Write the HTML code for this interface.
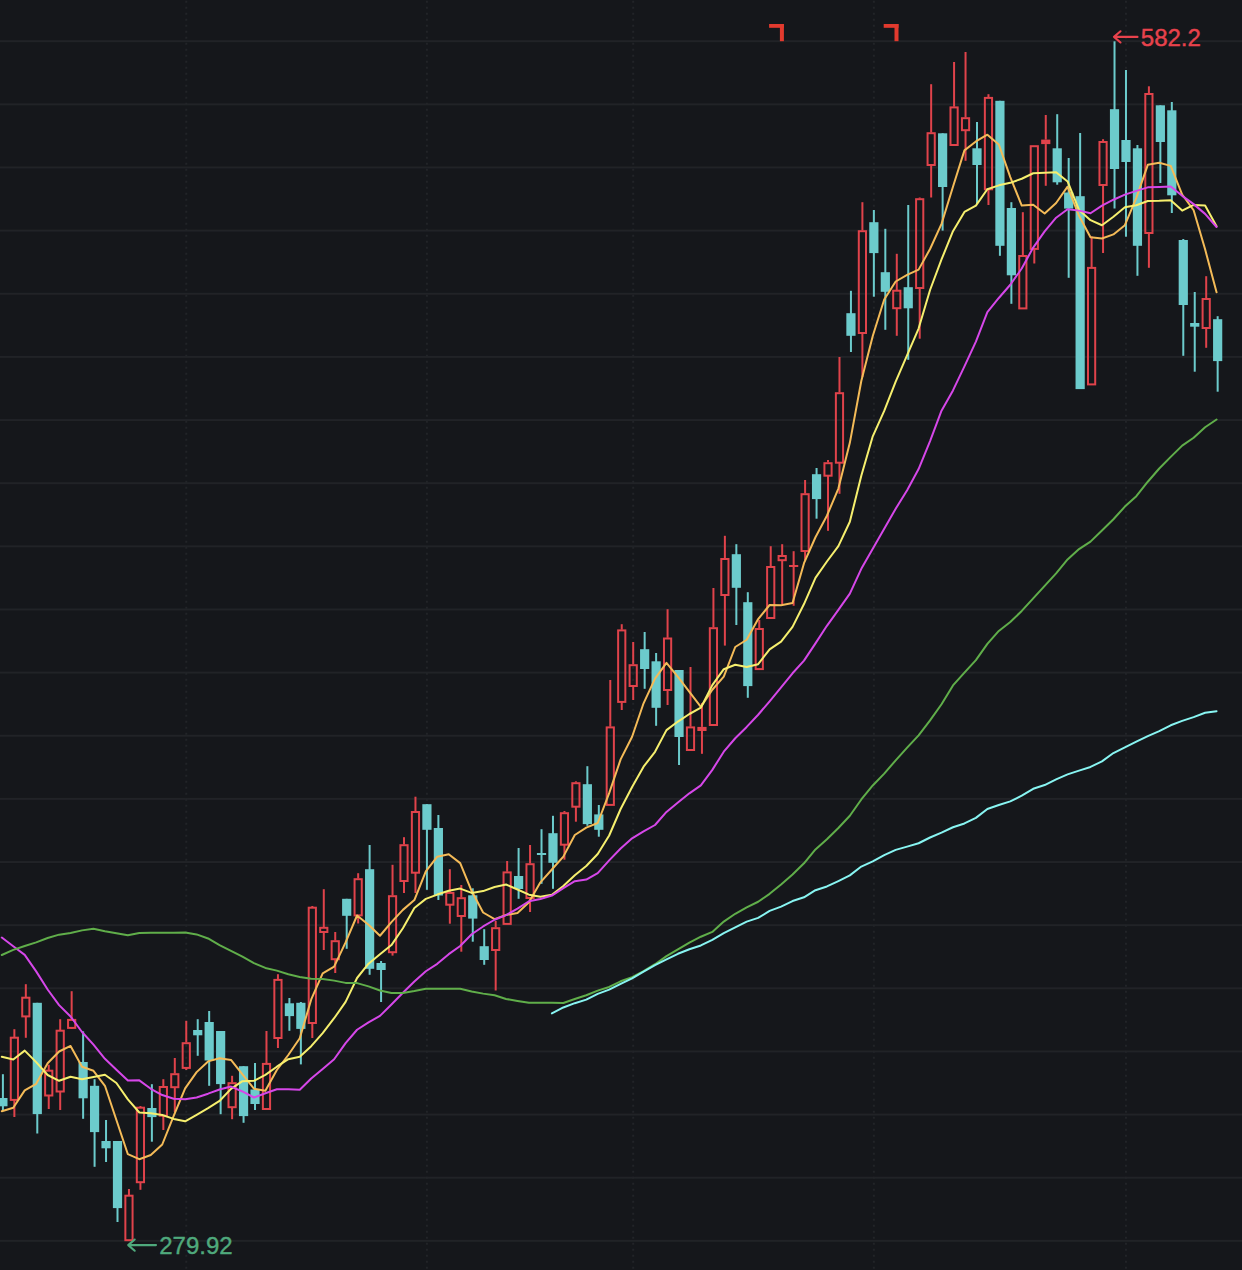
<!DOCTYPE html><html><head><meta charset="utf-8"><style>html,body{margin:0;padding:0;background:#15171b;overflow:hidden}svg{display:block}text{font-family:"Liberation Sans",sans-serif}</style></head><body>
<svg width="1242" height="1270" viewBox="0 0 1242 1270">
<rect width="1242" height="1270" fill="#15171b"/>
<rect x="0" y="40.20" width="1242" height="2" fill="#212327"/>
<rect x="0" y="103.34" width="1242" height="2" fill="#212327"/>
<rect x="0" y="166.48" width="1242" height="2" fill="#212327"/>
<rect x="0" y="229.62" width="1242" height="2" fill="#212327"/>
<rect x="0" y="292.76" width="1242" height="2" fill="#212327"/>
<rect x="0" y="355.90" width="1242" height="2" fill="#212327"/>
<rect x="0" y="419.04" width="1242" height="2" fill="#212327"/>
<rect x="0" y="482.18" width="1242" height="2" fill="#212327"/>
<rect x="0" y="545.32" width="1242" height="2" fill="#212327"/>
<rect x="0" y="608.46" width="1242" height="2" fill="#212327"/>
<rect x="0" y="671.60" width="1242" height="2" fill="#212327"/>
<rect x="0" y="734.74" width="1242" height="2" fill="#212327"/>
<rect x="0" y="797.88" width="1242" height="2" fill="#212327"/>
<rect x="0" y="861.02" width="1242" height="2" fill="#212327"/>
<rect x="0" y="924.16" width="1242" height="2" fill="#212327"/>
<rect x="0" y="987.30" width="1242" height="2" fill="#212327"/>
<rect x="0" y="1050.44" width="1242" height="2" fill="#212327"/>
<rect x="0" y="1113.58" width="1242" height="2" fill="#212327"/>
<rect x="0" y="1176.72" width="1242" height="2" fill="#212327"/>
<rect x="0" y="1239.86" width="1242" height="2" fill="#212327"/>
<line x1="186.26" y1="0" x2="186.26" y2="1270" stroke="#222428" stroke-width="2" stroke-dasharray="2 4" stroke-dashoffset="-0.7"/>
<line x1="426.92" y1="0" x2="426.92" y2="1270" stroke="#222428" stroke-width="2" stroke-dasharray="2 4" stroke-dashoffset="-0.7"/>
<line x1="633.20" y1="0" x2="633.20" y2="1270" stroke="#222428" stroke-width="2" stroke-dasharray="2 4" stroke-dashoffset="-0.7"/>
<line x1="873.86" y1="0" x2="873.86" y2="1270" stroke="#222428" stroke-width="2" stroke-dasharray="2 4" stroke-dashoffset="-0.7"/>
<line x1="1125.98" y1="0" x2="1125.98" y2="1270" stroke="#222428" stroke-width="2" stroke-dasharray="2 4" stroke-dashoffset="-0.7"/>
<rect x="1.90" y="1074.20" width="2.00" height="35.80" fill="#6ccbcc"/>
<rect x="-1.70" y="1098.00" width="9.20" height="8.30" fill="#6ccbcc"/>
<rect x="13.36" y="1029.20" width="2.00" height="7.80" fill="#e0434b"/>
<rect x="13.36" y="1100.20" width="2.00" height="16.80" fill="#e0434b"/>
<rect x="10.76" y="1037.70" width="7.20" height="62.20" fill="none" stroke="#e0434b" stroke-width="2.00"/>
<rect x="24.82" y="984.20" width="2.00" height="12.80" fill="#e0434b"/>
<rect x="24.82" y="1016.70" width="2.00" height="21.10" fill="#e0434b"/>
<rect x="22.22" y="997.70" width="7.20" height="18.70" fill="none" stroke="#e0434b" stroke-width="2.00"/>
<rect x="36.28" y="1002.80" width="2.00" height="130.70" fill="#6ccbcc"/>
<rect x="32.68" y="1002.80" width="9.20" height="111.30" fill="#6ccbcc"/>
<rect x="47.74" y="1064.70" width="2.00" height="5.30" fill="#e0434b"/>
<rect x="47.74" y="1095.80" width="2.00" height="13.20" fill="#e0434b"/>
<rect x="45.14" y="1070.70" width="7.20" height="24.80" fill="none" stroke="#e0434b" stroke-width="2.00"/>
<rect x="59.20" y="1019.20" width="2.00" height="10.80" fill="#e0434b"/>
<rect x="59.20" y="1091.80" width="2.00" height="18.20" fill="#e0434b"/>
<rect x="56.60" y="1030.70" width="7.20" height="60.80" fill="none" stroke="#e0434b" stroke-width="2.00"/>
<rect x="70.66" y="991.20" width="2.00" height="28.00" fill="#e0434b"/>
<rect x="70.66" y="1028.20" width="2.00" height="0.80" fill="#e0434b"/>
<rect x="68.06" y="1019.90" width="7.20" height="8.00" fill="none" stroke="#e0434b" stroke-width="2.00"/>
<rect x="82.12" y="1031.30" width="2.00" height="87.50" fill="#6ccbcc"/>
<rect x="78.52" y="1062.00" width="9.20" height="36.30" fill="#6ccbcc"/>
<rect x="93.58" y="1079.20" width="2.00" height="87.60" fill="#6ccbcc"/>
<rect x="89.98" y="1085.80" width="9.20" height="46.30" fill="#6ccbcc"/>
<rect x="105.04" y="1120.00" width="2.00" height="42.00" fill="#6ccbcc"/>
<rect x="101.44" y="1141.00" width="9.20" height="7.30" fill="#6ccbcc"/>
<rect x="116.50" y="1141.00" width="2.00" height="81.00" fill="#6ccbcc"/>
<rect x="112.90" y="1141.00" width="9.20" height="67.10" fill="#6ccbcc"/>
<rect x="127.96" y="1189.00" width="2.00" height="6.00" fill="#e0434b"/>
<rect x="125.36" y="1195.70" width="7.20" height="44.50" fill="none" stroke="#e0434b" stroke-width="2.00"/>
<rect x="139.42" y="1106.00" width="2.00" height="1.00" fill="#e0434b"/>
<rect x="139.42" y="1182.50" width="2.00" height="7.30" fill="#e0434b"/>
<rect x="136.82" y="1107.70" width="7.20" height="74.50" fill="none" stroke="#e0434b" stroke-width="2.00"/>
<rect x="150.88" y="1084.20" width="2.00" height="57.50" fill="#6ccbcc"/>
<rect x="147.28" y="1108.00" width="9.20" height="9.10" fill="#6ccbcc"/>
<rect x="162.34" y="1079.20" width="2.00" height="7.10" fill="#e0434b"/>
<rect x="162.34" y="1116.00" width="2.00" height="14.00" fill="#e0434b"/>
<rect x="159.74" y="1087.00" width="7.20" height="28.70" fill="none" stroke="#e0434b" stroke-width="2.00"/>
<rect x="173.80" y="1058.00" width="2.00" height="15.50" fill="#e0434b"/>
<rect x="173.80" y="1087.50" width="2.00" height="24.50" fill="#e0434b"/>
<rect x="171.20" y="1074.20" width="7.20" height="13.00" fill="none" stroke="#e0434b" stroke-width="2.00"/>
<rect x="185.26" y="1020.80" width="2.00" height="21.70" fill="#e0434b"/>
<rect x="185.26" y="1068.20" width="2.00" height="1.80" fill="#e0434b"/>
<rect x="182.66" y="1043.20" width="7.20" height="24.70" fill="none" stroke="#e0434b" stroke-width="2.00"/>
<rect x="196.72" y="1019.20" width="2.00" height="36.60" fill="#6ccbcc"/>
<rect x="193.12" y="1030.00" width="9.20" height="5.30" fill="#6ccbcc"/>
<rect x="208.18" y="1011.00" width="2.00" height="74.80" fill="#6ccbcc"/>
<rect x="204.58" y="1022.00" width="9.20" height="38.50" fill="#6ccbcc"/>
<rect x="219.64" y="1031.00" width="2.00" height="83.20" fill="#6ccbcc"/>
<rect x="216.04" y="1031.00" width="9.20" height="53.10" fill="#6ccbcc"/>
<rect x="231.10" y="1075.80" width="2.00" height="6.70" fill="#e0434b"/>
<rect x="231.10" y="1107.50" width="2.00" height="11.70" fill="#e0434b"/>
<rect x="228.50" y="1083.20" width="7.20" height="24.00" fill="none" stroke="#e0434b" stroke-width="2.00"/>
<rect x="242.56" y="1066.20" width="2.00" height="56.60" fill="#6ccbcc"/>
<rect x="238.96" y="1066.20" width="9.20" height="49.90" fill="#6ccbcc"/>
<rect x="254.02" y="1063.00" width="2.00" height="47.00" fill="#6ccbcc"/>
<rect x="250.42" y="1089.50" width="9.20" height="14.50" fill="#6ccbcc"/>
<rect x="265.48" y="1031.00" width="2.00" height="32.20" fill="#e0434b"/>
<rect x="262.88" y="1063.90" width="7.20" height="45.10" fill="none" stroke="#e0434b" stroke-width="2.00"/>
<rect x="276.94" y="974.20" width="2.00" height="5.00" fill="#e0434b"/>
<rect x="276.94" y="1038.30" width="2.00" height="9.70" fill="#e0434b"/>
<rect x="274.34" y="979.90" width="7.20" height="58.10" fill="none" stroke="#e0434b" stroke-width="2.00"/>
<rect x="288.40" y="998.00" width="2.00" height="32.80" fill="#6ccbcc"/>
<rect x="284.80" y="1003.30" width="9.20" height="12.80" fill="#6ccbcc"/>
<rect x="299.86" y="1002.00" width="2.00" height="62.40" fill="#6ccbcc"/>
<rect x="296.26" y="1002.80" width="9.20" height="26.10" fill="#6ccbcc"/>
<rect x="311.32" y="906.00" width="2.00" height="1.00" fill="#e0434b"/>
<rect x="311.32" y="1023.30" width="2.00" height="14.70" fill="#e0434b"/>
<rect x="308.72" y="907.70" width="7.20" height="115.30" fill="none" stroke="#e0434b" stroke-width="2.00"/>
<rect x="322.78" y="889.20" width="2.00" height="37.90" fill="#e0434b"/>
<rect x="322.78" y="932.30" width="2.00" height="17.70" fill="#e0434b"/>
<rect x="320.18" y="927.80" width="7.20" height="4.20" fill="none" stroke="#e0434b" stroke-width="2.00"/>
<rect x="334.24" y="932.00" width="2.00" height="8.50" fill="#e0434b"/>
<rect x="334.24" y="959.50" width="2.00" height="13.50" fill="#e0434b"/>
<rect x="331.64" y="941.20" width="7.20" height="18.00" fill="none" stroke="#e0434b" stroke-width="2.00"/>
<rect x="345.70" y="898.80" width="2.00" height="50.00" fill="#6ccbcc"/>
<rect x="342.10" y="898.80" width="9.20" height="17.00" fill="#6ccbcc"/>
<rect x="357.16" y="873.20" width="2.00" height="5.30" fill="#e0434b"/>
<rect x="357.16" y="915.70" width="2.00" height="7.80" fill="#e0434b"/>
<rect x="354.56" y="879.20" width="7.20" height="36.20" fill="none" stroke="#e0434b" stroke-width="2.00"/>
<rect x="368.62" y="845.00" width="2.00" height="129.80" fill="#6ccbcc"/>
<rect x="365.02" y="869.20" width="9.20" height="99.60" fill="#6ccbcc"/>
<rect x="380.08" y="961.00" width="2.00" height="41.00" fill="#6ccbcc"/>
<rect x="376.48" y="963.00" width="9.20" height="7.00" fill="#6ccbcc"/>
<rect x="391.54" y="864.80" width="2.00" height="30.70" fill="#e0434b"/>
<rect x="391.54" y="952.50" width="2.00" height="3.10" fill="#e0434b"/>
<rect x="388.94" y="896.20" width="7.20" height="56.00" fill="none" stroke="#e0434b" stroke-width="2.00"/>
<rect x="403.00" y="837.20" width="2.00" height="7.30" fill="#e0434b"/>
<rect x="403.00" y="881.30" width="2.00" height="11.70" fill="#e0434b"/>
<rect x="400.40" y="845.20" width="7.20" height="35.80" fill="none" stroke="#e0434b" stroke-width="2.00"/>
<rect x="414.46" y="796.70" width="2.00" height="14.60" fill="#e0434b"/>
<rect x="414.46" y="873.00" width="2.00" height="20.00" fill="#e0434b"/>
<rect x="411.86" y="812.00" width="7.20" height="60.70" fill="none" stroke="#e0434b" stroke-width="2.00"/>
<rect x="425.92" y="804.20" width="2.00" height="85.60" fill="#6ccbcc"/>
<rect x="422.32" y="804.20" width="9.20" height="25.60" fill="#6ccbcc"/>
<rect x="437.38" y="815.00" width="2.00" height="85.00" fill="#6ccbcc"/>
<rect x="433.78" y="828.00" width="9.20" height="67.50" fill="#6ccbcc"/>
<rect x="448.84" y="869.20" width="2.00" height="23.00" fill="#e0434b"/>
<rect x="448.84" y="905.00" width="2.00" height="18.70" fill="#e0434b"/>
<rect x="446.24" y="892.90" width="7.20" height="11.80" fill="none" stroke="#e0434b" stroke-width="2.00"/>
<rect x="460.30" y="885.00" width="2.00" height="12.50" fill="#e0434b"/>
<rect x="460.30" y="916.30" width="2.00" height="35.40" fill="#e0434b"/>
<rect x="457.70" y="898.20" width="7.20" height="17.80" fill="none" stroke="#e0434b" stroke-width="2.00"/>
<rect x="471.76" y="888.30" width="2.00" height="53.40" fill="#6ccbcc"/>
<rect x="468.16" y="895.30" width="9.20" height="23.30" fill="#6ccbcc"/>
<rect x="483.22" y="929.20" width="2.00" height="35.60" fill="#6ccbcc"/>
<rect x="479.62" y="946.20" width="9.20" height="13.80" fill="#6ccbcc"/>
<rect x="494.68" y="921.00" width="2.00" height="6.50" fill="#e0434b"/>
<rect x="494.68" y="950.30" width="2.00" height="40.20" fill="#e0434b"/>
<rect x="492.08" y="928.20" width="7.20" height="21.80" fill="none" stroke="#e0434b" stroke-width="2.00"/>
<rect x="506.14" y="861.00" width="2.00" height="10.70" fill="#e0434b"/>
<rect x="503.54" y="872.40" width="7.20" height="51.50" fill="none" stroke="#e0434b" stroke-width="2.00"/>
<rect x="517.60" y="848.00" width="2.00" height="50.80" fill="#6ccbcc"/>
<rect x="514.00" y="876.00" width="9.20" height="13.00" fill="#6ccbcc"/>
<rect x="529.06" y="845.00" width="2.00" height="18.50" fill="#e0434b"/>
<rect x="529.06" y="898.30" width="2.00" height="13.70" fill="#e0434b"/>
<rect x="526.46" y="864.20" width="7.20" height="33.80" fill="none" stroke="#e0434b" stroke-width="2.00"/>
<rect x="540.52" y="829.20" width="2.00" height="54.60" fill="#6ccbcc"/>
<rect x="536.92" y="853.00" width="9.20" height="2.00" fill="#6ccbcc"/>
<rect x="551.98" y="815.80" width="2.00" height="73.00" fill="#6ccbcc"/>
<rect x="548.38" y="833.20" width="9.20" height="29.60" fill="#6ccbcc"/>
<rect x="563.44" y="811.00" width="2.00" height="1.50" fill="#e0434b"/>
<rect x="563.44" y="845.00" width="2.00" height="14.70" fill="#e0434b"/>
<rect x="560.84" y="813.20" width="7.20" height="31.50" fill="none" stroke="#e0434b" stroke-width="2.00"/>
<rect x="574.90" y="781.30" width="2.00" height="1.20" fill="#e0434b"/>
<rect x="574.90" y="807.00" width="2.00" height="14.70" fill="#e0434b"/>
<rect x="572.30" y="783.20" width="7.20" height="23.50" fill="none" stroke="#e0434b" stroke-width="2.00"/>
<rect x="586.36" y="766.20" width="2.00" height="59.60" fill="#6ccbcc"/>
<rect x="582.76" y="784.20" width="9.20" height="39.90" fill="#6ccbcc"/>
<rect x="597.82" y="805.00" width="2.00" height="31.70" fill="#6ccbcc"/>
<rect x="594.22" y="814.40" width="9.20" height="15.40" fill="#6ccbcc"/>
<rect x="609.28" y="680.00" width="2.00" height="46.70" fill="#e0434b"/>
<rect x="606.68" y="727.40" width="7.20" height="77.50" fill="none" stroke="#e0434b" stroke-width="2.00"/>
<rect x="620.74" y="624.20" width="2.00" height="5.50" fill="#e0434b"/>
<rect x="620.74" y="702.20" width="2.00" height="7.80" fill="#e0434b"/>
<rect x="618.14" y="630.40" width="7.20" height="71.50" fill="none" stroke="#e0434b" stroke-width="2.00"/>
<rect x="632.20" y="642.00" width="2.00" height="22.50" fill="#e0434b"/>
<rect x="632.20" y="686.30" width="2.00" height="13.70" fill="#e0434b"/>
<rect x="629.60" y="665.20" width="7.20" height="20.80" fill="none" stroke="#e0434b" stroke-width="2.00"/>
<rect x="643.66" y="632.00" width="2.00" height="56.80" fill="#6ccbcc"/>
<rect x="640.06" y="649.20" width="9.20" height="19.80" fill="#6ccbcc"/>
<rect x="655.12" y="653.00" width="2.00" height="72.80" fill="#6ccbcc"/>
<rect x="651.52" y="661.30" width="9.20" height="46.50" fill="#6ccbcc"/>
<rect x="666.58" y="609.20" width="2.00" height="28.60" fill="#e0434b"/>
<rect x="666.58" y="690.30" width="2.00" height="14.70" fill="#e0434b"/>
<rect x="663.98" y="638.50" width="7.20" height="51.50" fill="none" stroke="#e0434b" stroke-width="2.00"/>
<rect x="678.04" y="670.00" width="2.00" height="95.00" fill="#6ccbcc"/>
<rect x="674.44" y="670.00" width="9.20" height="67.00" fill="#6ccbcc"/>
<rect x="689.50" y="667.00" width="2.00" height="59.70" fill="#e0434b"/>
<rect x="686.90" y="727.40" width="7.20" height="22.60" fill="none" stroke="#e0434b" stroke-width="2.00"/>
<rect x="700.96" y="703.00" width="2.00" height="23.90" fill="#e0434b"/>
<rect x="700.96" y="731.00" width="2.00" height="22.80" fill="#e0434b"/>
<rect x="697.36" y="726.90" width="9.20" height="4.10" fill="#e0434b"/>
<rect x="712.42" y="588.00" width="2.00" height="39.50" fill="#e0434b"/>
<rect x="709.82" y="628.20" width="7.20" height="96.80" fill="none" stroke="#e0434b" stroke-width="2.00"/>
<rect x="723.88" y="535.80" width="2.00" height="22.50" fill="#e0434b"/>
<rect x="723.88" y="595.30" width="2.00" height="50.30" fill="#e0434b"/>
<rect x="721.28" y="559.00" width="7.20" height="36.00" fill="none" stroke="#e0434b" stroke-width="2.00"/>
<rect x="735.34" y="544.20" width="2.00" height="80.80" fill="#6ccbcc"/>
<rect x="731.74" y="554.20" width="9.20" height="33.60" fill="#6ccbcc"/>
<rect x="746.80" y="592.20" width="2.00" height="105.60" fill="#6ccbcc"/>
<rect x="743.20" y="602.20" width="9.20" height="83.90" fill="#6ccbcc"/>
<rect x="758.26" y="620.00" width="2.00" height="8.30" fill="#e0434b"/>
<rect x="755.66" y="629.00" width="7.20" height="40.10" fill="none" stroke="#e0434b" stroke-width="2.00"/>
<rect x="769.72" y="546.20" width="2.00" height="20.10" fill="#e0434b"/>
<rect x="767.12" y="567.00" width="7.20" height="51.00" fill="none" stroke="#e0434b" stroke-width="2.00"/>
<rect x="781.18" y="544.20" width="2.00" height="11.10" fill="#e0434b"/>
<rect x="781.18" y="560.50" width="2.00" height="43.70" fill="#e0434b"/>
<rect x="778.58" y="556.00" width="7.20" height="4.20" fill="none" stroke="#e0434b" stroke-width="2.00"/>
<rect x="792.64" y="551.20" width="2.00" height="13.80" fill="#e0434b"/>
<rect x="792.64" y="566.70" width="2.00" height="39.10" fill="#e0434b"/>
<rect x="789.04" y="565.00" width="9.20" height="2.00" fill="#e0434b"/>
<rect x="804.10" y="480.00" width="2.00" height="13.50" fill="#e0434b"/>
<rect x="804.10" y="551.30" width="2.00" height="8.70" fill="#e0434b"/>
<rect x="801.50" y="494.20" width="7.20" height="56.80" fill="none" stroke="#e0434b" stroke-width="2.00"/>
<rect x="815.56" y="468.00" width="2.00" height="50.70" fill="#6ccbcc"/>
<rect x="811.96" y="474.20" width="9.20" height="24.90" fill="#6ccbcc"/>
<rect x="827.02" y="460.00" width="2.00" height="2.50" fill="#e0434b"/>
<rect x="827.02" y="476.00" width="2.00" height="54.80" fill="#e0434b"/>
<rect x="824.42" y="463.20" width="7.20" height="12.50" fill="none" stroke="#e0434b" stroke-width="2.00"/>
<rect x="838.48" y="357.00" width="2.00" height="35.50" fill="#e0434b"/>
<rect x="838.48" y="463.00" width="2.00" height="30.80" fill="#e0434b"/>
<rect x="835.88" y="393.20" width="7.20" height="69.50" fill="none" stroke="#e0434b" stroke-width="2.00"/>
<rect x="849.94" y="290.80" width="2.00" height="61.20" fill="#6ccbcc"/>
<rect x="846.34" y="313.20" width="9.20" height="22.60" fill="#6ccbcc"/>
<rect x="861.40" y="202.20" width="2.00" height="28.30" fill="#e0434b"/>
<rect x="861.40" y="333.30" width="2.00" height="43.70" fill="#e0434b"/>
<rect x="858.80" y="231.20" width="7.20" height="101.80" fill="none" stroke="#e0434b" stroke-width="2.00"/>
<rect x="872.86" y="210.00" width="2.00" height="86.70" fill="#6ccbcc"/>
<rect x="869.26" y="222.20" width="9.20" height="30.90" fill="#6ccbcc"/>
<rect x="884.32" y="228.80" width="2.00" height="101.00" fill="#6ccbcc"/>
<rect x="880.72" y="272.20" width="9.20" height="19.60" fill="#6ccbcc"/>
<rect x="895.78" y="253.80" width="2.00" height="36.20" fill="#e0434b"/>
<rect x="895.78" y="308.50" width="2.00" height="27.30" fill="#e0434b"/>
<rect x="893.18" y="290.70" width="7.20" height="17.50" fill="none" stroke="#e0434b" stroke-width="2.00"/>
<rect x="907.24" y="205.00" width="2.00" height="154.80" fill="#6ccbcc"/>
<rect x="903.64" y="287.20" width="9.20" height="21.10" fill="#6ccbcc"/>
<rect x="918.70" y="197.50" width="2.00" height="1.00" fill="#e0434b"/>
<rect x="918.70" y="288.30" width="2.00" height="50.40" fill="#e0434b"/>
<rect x="916.10" y="199.20" width="7.20" height="88.80" fill="none" stroke="#e0434b" stroke-width="2.00"/>
<rect x="930.16" y="84.20" width="2.00" height="48.30" fill="#e0434b"/>
<rect x="930.16" y="165.30" width="2.00" height="32.20" fill="#e0434b"/>
<rect x="927.56" y="133.20" width="7.20" height="31.80" fill="none" stroke="#e0434b" stroke-width="2.00"/>
<rect x="941.62" y="133.30" width="2.00" height="97.30" fill="#6ccbcc"/>
<rect x="938.02" y="133.30" width="9.20" height="53.70" fill="#6ccbcc"/>
<rect x="953.08" y="62.00" width="2.00" height="44.70" fill="#e0434b"/>
<rect x="950.48" y="107.40" width="7.20" height="37.60" fill="none" stroke="#e0434b" stroke-width="2.00"/>
<rect x="964.54" y="52.00" width="2.00" height="65.50" fill="#e0434b"/>
<rect x="964.54" y="130.50" width="2.00" height="30.30" fill="#e0434b"/>
<rect x="961.94" y="118.20" width="7.20" height="12.00" fill="none" stroke="#e0434b" stroke-width="2.00"/>
<rect x="976.00" y="122.00" width="2.00" height="82.00" fill="#6ccbcc"/>
<rect x="972.40" y="148.30" width="9.20" height="16.70" fill="#6ccbcc"/>
<rect x="987.46" y="94.20" width="2.00" height="3.00" fill="#e0434b"/>
<rect x="987.46" y="189.60" width="2.00" height="15.40" fill="#e0434b"/>
<rect x="984.86" y="97.90" width="7.20" height="91.40" fill="none" stroke="#e0434b" stroke-width="2.00"/>
<rect x="998.92" y="100.80" width="2.00" height="155.00" fill="#6ccbcc"/>
<rect x="995.32" y="100.80" width="9.20" height="145.00" fill="#6ccbcc"/>
<rect x="1010.38" y="202.20" width="2.00" height="101.60" fill="#6ccbcc"/>
<rect x="1006.78" y="208.00" width="9.20" height="67.30" fill="#6ccbcc"/>
<rect x="1021.84" y="212.20" width="2.00" height="43.10" fill="#e0434b"/>
<rect x="1019.24" y="256.00" width="7.20" height="52.40" fill="none" stroke="#e0434b" stroke-width="2.00"/>
<rect x="1033.30" y="249.20" width="2.00" height="14.30" fill="#e0434b"/>
<rect x="1030.70" y="146.20" width="7.20" height="102.70" fill="none" stroke="#e0434b" stroke-width="2.00"/>
<rect x="1044.76" y="115.00" width="2.00" height="24.60" fill="#e0434b"/>
<rect x="1044.76" y="144.10" width="2.00" height="41.70" fill="#e0434b"/>
<rect x="1041.16" y="139.60" width="9.20" height="4.50" fill="#e0434b"/>
<rect x="1056.22" y="114.20" width="2.00" height="70.50" fill="#6ccbcc"/>
<rect x="1052.62" y="148.30" width="9.20" height="34.00" fill="#6ccbcc"/>
<rect x="1067.68" y="158.00" width="2.00" height="119.80" fill="#6ccbcc"/>
<rect x="1064.08" y="192.50" width="9.20" height="16.10" fill="#6ccbcc"/>
<rect x="1079.14" y="133.00" width="2.00" height="255.80" fill="#6ccbcc"/>
<rect x="1075.54" y="196.20" width="9.20" height="192.90" fill="#6ccbcc"/>
<rect x="1090.60" y="236.30" width="2.00" height="30.90" fill="#e0434b"/>
<rect x="1088.00" y="267.90" width="7.20" height="116.50" fill="none" stroke="#e0434b" stroke-width="2.00"/>
<rect x="1102.06" y="139.20" width="2.00" height="2.10" fill="#e0434b"/>
<rect x="1102.06" y="185.30" width="2.00" height="67.70" fill="#e0434b"/>
<rect x="1099.46" y="142.00" width="7.20" height="43.00" fill="none" stroke="#e0434b" stroke-width="2.00"/>
<rect x="1113.52" y="41.30" width="2.00" height="167.20" fill="#6ccbcc"/>
<rect x="1109.92" y="109.20" width="9.20" height="59.80" fill="#6ccbcc"/>
<rect x="1124.98" y="70.00" width="2.00" height="166.70" fill="#6ccbcc"/>
<rect x="1121.38" y="140.00" width="9.20" height="22.00" fill="#6ccbcc"/>
<rect x="1136.44" y="145.00" width="2.00" height="130.80" fill="#6ccbcc"/>
<rect x="1132.84" y="148.30" width="9.20" height="97.50" fill="#6ccbcc"/>
<rect x="1147.90" y="86.30" width="2.00" height="7.00" fill="#e0434b"/>
<rect x="1147.90" y="233.30" width="2.00" height="34.50" fill="#e0434b"/>
<rect x="1145.30" y="94.00" width="7.20" height="139.00" fill="none" stroke="#e0434b" stroke-width="2.00"/>
<rect x="1159.36" y="105.30" width="2.00" height="77.70" fill="#6ccbcc"/>
<rect x="1155.76" y="105.30" width="9.20" height="36.70" fill="#6ccbcc"/>
<rect x="1170.82" y="102.00" width="2.00" height="111.00" fill="#6ccbcc"/>
<rect x="1167.22" y="110.30" width="9.20" height="85.00" fill="#6ccbcc"/>
<rect x="1182.28" y="239.00" width="2.00" height="116.80" fill="#6ccbcc"/>
<rect x="1178.68" y="240.00" width="9.20" height="65.00" fill="#6ccbcc"/>
<rect x="1193.74" y="292.00" width="2.00" height="79.70" fill="#6ccbcc"/>
<rect x="1190.14" y="323.00" width="9.20" height="3.70" fill="#6ccbcc"/>
<rect x="1205.20" y="276.20" width="2.00" height="22.10" fill="#e0434b"/>
<rect x="1205.20" y="328.30" width="2.00" height="19.50" fill="#e0434b"/>
<rect x="1202.60" y="299.00" width="7.20" height="29.00" fill="none" stroke="#e0434b" stroke-width="2.00"/>
<rect x="1216.66" y="316.20" width="2.00" height="75.50" fill="#6ccbcc"/>
<rect x="1213.06" y="319.20" width="9.20" height="41.90" fill="#6ccbcc"/>
<polyline points="1.80,1111.19 13.26,1107.74 24.72,1090.36 36.18,1083.82 47.64,1063.22 59.10,1051.52 70.56,1045.94 82.02,1066.70 93.48,1070.80 104.94,1085.80 116.40,1120.02 127.86,1154.20 139.32,1159.20 150.78,1155.00 162.24,1144.50 173.70,1115.90 185.16,1088.30 196.62,1072.12 208.08,1061.40 219.54,1058.30 231.00,1059.96 242.46,1074.46 253.92,1088.70 265.38,1090.80 276.84,1070.00 288.30,1055.00 299.76,1038.30 311.22,999.42 322.68,973.30 334.14,966.60 345.60,942.38 357.06,915.50 368.52,924.84 379.98,935.74 391.44,922.08 402.90,909.88 414.36,900.10 425.82,871.30 437.28,856.70 448.74,854.30 460.20,863.15 471.66,891.02 483.12,912.50 494.58,919.09 506.04,915.00 517.50,913.00 528.96,902.35 540.42,882.36 551.88,869.54 563.34,856.60 574.80,835.00 586.26,827.58 597.72,823.00 609.18,793.18 620.64,759.38 632.10,736.76 643.56,703.30 655.02,678.63 666.48,662.92 677.94,676.85 689.40,691.94 700.86,706.94 712.32,689.74 723.78,676.70 735.24,647.00 746.70,639.72 758.16,619.10 769.62,605.00 781.08,605.20 792.54,602.96 804.00,563.16 815.46,537.24 826.92,515.70 838.38,488.60 849.84,442.86 861.30,381.00 872.76,336.00 884.22,299.50 895.68,281.50 907.14,274.80 918.60,269.62 930.06,248.98 941.52,223.84 952.98,186.78 964.44,150.34 975.90,141.45 987.36,134.70 998.82,144.53 1010.28,177.12 1021.74,205.51 1033.20,204.70 1044.66,213.44 1056.12,202.98 1067.58,186.70 1079.04,215.82 1090.50,237.34 1101.96,238.52 1113.42,234.42 1124.88,225.16 1136.34,197.88 1147.80,164.84 1159.26,162.80 1170.72,165.88 1182.18,194.52 1193.64,210.28 1205.10,249.29 1216.56,292.35" fill="none" stroke="#f4bb58" stroke-width="2.00" stroke-linejoin="round" stroke-linecap="round"/>
<polyline points="1.80,1056.79 13.26,1059.50 24.72,1050.60 36.18,1062.14 47.64,1075.00 59.10,1080.80 70.56,1076.78 82.02,1079.20 93.48,1076.92 104.94,1074.70 116.40,1082.95 127.86,1099.44 139.32,1112.50 150.78,1113.17 162.24,1115.02 173.70,1118.91 185.16,1121.30 196.62,1114.86 208.08,1108.18 219.54,1100.94 231.00,1088.92 242.46,1081.15 253.92,1080.80 265.38,1074.88 276.84,1066.70 288.30,1059.20 299.76,1056.70 311.22,1046.20 322.68,1033.06 334.14,1018.22 345.60,1001.86 357.06,978.00 368.52,963.69 379.98,954.20 391.44,945.09 402.90,928.28 414.36,908.05 425.82,898.90 437.28,894.57 448.74,890.76 460.20,888.58 471.66,892.90 483.12,891.10 494.58,886.99 506.04,884.54 517.50,889.51 528.96,894.67 540.42,896.84 551.88,894.77 563.34,885.96 574.80,875.16 586.26,866.04 597.72,854.02 609.18,835.50 620.64,809.02 632.10,786.92 643.56,766.70 655.02,751.82 666.48,730.10 677.94,721.54 689.40,714.00 700.86,707.74 712.32,685.08 723.78,669.20 735.24,664.70 746.70,667.07 758.16,664.20 769.62,649.39 781.08,641.62 792.54,626.86 804.00,604.06 815.46,577.80 826.92,561.52 838.38,546.20 849.84,521.78 861.30,475.78 872.76,436.34 884.22,410.91 895.68,381.68 907.14,355.07 918.60,328.56 930.06,290.00 941.52,259.47 952.98,231.20 964.44,211.97 975.90,205.63 987.36,189.30 998.82,185.33 1010.28,182.82 1021.74,178.76 1033.20,173.26 1044.66,172.81 1056.12,172.30 1067.58,181.43 1079.04,209.90 1090.50,220.16 1101.96,225.24 1113.42,216.68 1124.88,207.22 1136.34,205.28 1147.80,201.00 1159.26,200.80 1170.72,200.32 1182.18,210.61 1193.64,204.90 1205.10,205.57 1216.56,226.23" fill="none" stroke="#f6ef6e" stroke-width="2.00" stroke-linejoin="round" stroke-linecap="round"/>
<polyline points="1.80,937.50 13.26,946.20 24.72,954.90 36.18,971.40 47.64,989.50 59.10,1005.10 70.56,1016.50 82.02,1032.00 93.48,1044.70 104.94,1058.80 116.40,1069.81 127.86,1080.60 139.32,1080.37 150.78,1088.79 162.24,1095.04 173.70,1098.82 185.16,1099.29 196.62,1097.48 208.08,1093.68 219.54,1089.52 231.00,1086.57 242.46,1091.48 253.92,1097.50 265.38,1093.20 276.84,1089.20 288.30,1089.20 299.76,1089.76 311.22,1078.52 322.68,1068.94 334.14,1059.26 345.60,1043.10 357.06,1029.76 368.52,1022.36 379.98,1015.88 391.44,1004.42 402.90,992.79 414.36,981.52 425.82,971.24 437.28,963.82 448.74,954.16 460.20,945.96 471.66,934.22 483.12,926.48 494.58,919.74 506.04,915.14 517.50,908.56 528.96,901.24 540.42,899.08 551.88,895.54 563.34,888.18 574.80,881.20 586.26,879.61 597.72,873.16 609.18,860.39 620.64,848.54 632.10,838.30 643.56,831.40 655.02,825.00 666.48,811.92 677.94,802.58 689.40,793.34 700.86,785.36 712.32,769.86 723.78,751.70 735.24,738.24 746.70,726.93 758.16,714.74 769.62,701.32 781.08,687.34 792.54,673.29 804.00,660.65 815.46,643.38 826.92,625.80 838.38,609.86 849.84,593.70 861.30,568.85 872.76,548.71 884.22,528.81 895.68,508.85 907.14,490.23 918.60,469.10 930.06,441.10 941.52,410.70 952.98,390.43 964.44,366.37 975.90,341.59 987.36,312.03 998.82,297.98 1010.28,284.74 1021.74,268.50 1033.20,247.56 1044.66,231.40 1056.12,217.70 1067.58,209.20 1079.04,210.62 1090.50,213.28 1101.96,205.66 1113.42,199.72 1124.88,194.62 1136.34,190.84 1147.80,187.37 1159.26,187.01 1170.72,186.53 1182.18,195.84 1193.64,204.12 1205.10,213.88 1216.56,227.02" fill="none" stroke="#d647e9" stroke-width="2.00" stroke-linejoin="round" stroke-linecap="round"/>
<polyline points="1.80,954.98 13.26,949.92 24.72,946.06 36.18,942.38 47.64,938.06 59.10,934.64 70.56,932.90 82.02,930.38 93.48,928.84 104.94,931.18 116.40,933.22 127.86,935.22 139.32,933.02 150.78,932.71 162.24,932.70 173.70,932.70 185.16,932.60 196.62,934.40 208.08,938.47 219.54,945.10 231.00,950.94 242.46,956.72 253.92,963.07 265.38,967.95 276.84,970.60 288.30,974.30 299.76,976.90 311.22,978.70 322.68,979.10 334.14,980.62 345.60,982.88 357.06,983.12 368.52,986.34 379.98,990.50 391.44,992.90 402.90,992.91 414.36,991.00 425.82,988.80 437.28,988.70 448.74,988.70 460.20,988.66 471.66,991.46 483.12,993.62 494.58,995.24 506.04,998.93 517.50,1000.93 528.96,1002.72 540.42,1002.80 551.88,1002.80 563.34,1003.00 574.80,998.98 586.26,995.20 597.72,990.60 609.18,986.95 620.64,981.28 632.10,977.10 643.56,971.03 655.02,964.22 666.48,956.11 677.94,949.44 689.40,942.60 700.86,936.72 712.32,931.94 723.78,921.57 735.24,913.77 746.70,907.38 758.16,901.76 769.62,893.84 781.08,884.44 792.54,874.43 804.00,863.30 815.46,849.45 826.92,839.23 838.38,828.04 849.84,815.79 861.30,799.45 872.76,785.43 884.22,773.60 895.68,760.34 907.14,747.70 918.60,735.32 930.06,720.41 941.52,704.28 952.98,685.40 964.44,672.60 975.90,660.19 987.36,643.89 998.82,630.93 1010.28,622.06 1021.74,610.95 1033.20,598.40 1044.66,585.90 1056.12,573.37 1067.58,559.45 1079.04,549.04 1090.50,541.60 1101.96,530.48 1113.42,519.25 1124.88,506.61 1136.34,496.20 1147.80,481.73 1159.26,468.48 1170.72,456.88 1182.18,445.61 1193.64,437.78 1205.10,427.27 1216.56,419.53" fill="none" stroke="#60ae4a" stroke-width="2.00" stroke-linejoin="round" stroke-linecap="round"/>
<polyline points="551.88,1013.36 563.34,1007.48 574.80,1003.17 586.26,999.65 597.72,993.88 609.18,989.68 620.64,983.85 632.10,978.29 643.56,971.63 655.02,965.09 666.48,959.34 677.94,953.78 689.40,949.20 700.86,945.46 712.32,939.80 723.78,933.09 735.24,927.44 746.70,921.66 758.16,917.92 769.62,910.94 781.08,906.57 792.54,901.05 804.00,897.32 815.46,890.22 826.92,886.44 838.38,881.04 849.84,875.40 861.30,866.56 872.76,861.44 884.22,855.15 895.68,849.90 907.14,846.62 918.60,843.25 930.06,837.51 941.52,832.69 952.98,827.24 964.44,823.46 975.90,817.90 987.36,809.00 998.82,805.06 1010.28,801.36 1021.74,795.70 1033.20,788.80 1044.66,785.06 1056.12,779.31 1067.58,774.41 1079.04,770.66 1090.50,766.96 1101.96,761.38 1113.42,753.06 1124.88,747.44 1136.34,741.64 1147.80,736.10 1159.26,731.12 1170.72,725.28 1182.18,720.89 1193.64,717.08 1205.10,712.77 1216.56,711.14" fill="none" stroke="#88f5f2" stroke-width="2.00" stroke-linejoin="round" stroke-linecap="round"/>
<rect x="769.10" y="24" width="14.8" height="3.8" fill="#e23a2e"/>
<rect x="779.90" y="24" width="4" height="17.2" fill="#e23a2e"/>
<rect x="883.70" y="24" width="14.8" height="3.8" fill="#e23a2e"/>
<rect x="894.50" y="24" width="4" height="17.2" fill="#e23a2e"/>
<path d="M1137.50 36.90 L1114.00 36.90 M1120.50 31.30 L1114.00 36.90 L1120.50 42.50" fill="none" stroke="#e8424c" stroke-width="2.1" stroke-linecap="round" stroke-linejoin="round"/>
<text x="1140.8" y="46" font-size="24" fill="#e8424c" stroke="#e8424c" stroke-width="0.4">582.2</text>
<path d="M156.00 1245.10 L128.20 1245.10 M134.70 1239.50 L128.20 1245.10 L134.70 1250.70" fill="none" stroke="#4fa97c" stroke-width="2.1" stroke-linecap="round" stroke-linejoin="round"/>
<text x="159.2" y="1253.9" font-size="24" fill="#4fa97c" stroke="#4fa97c" stroke-width="0.4">279.92</text>
</svg></body></html>
